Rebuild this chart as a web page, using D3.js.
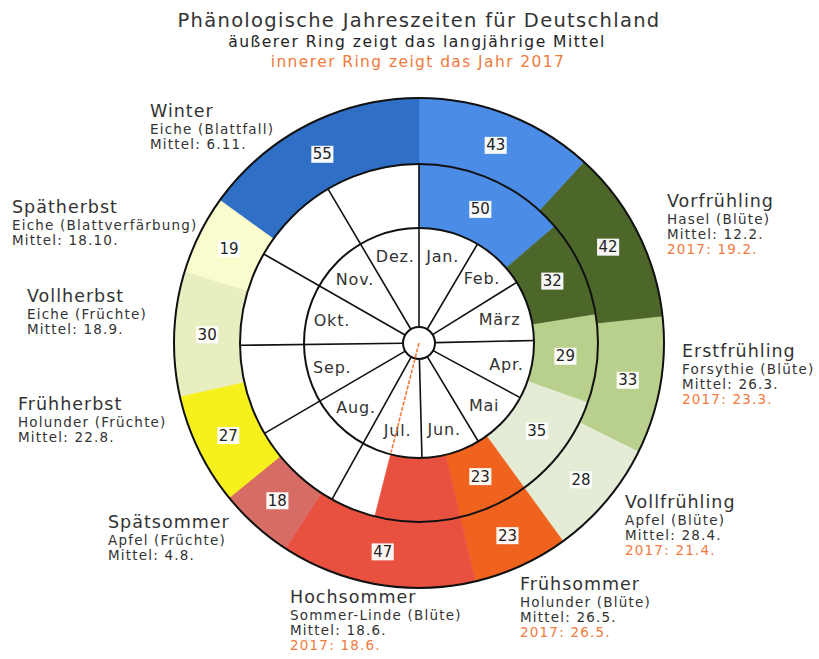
<!DOCTYPE html>
<html><head><meta charset="utf-8">
<script src="https://cdn.jsdelivr.net/npm/d3@7"></script>
<style>
body{margin:0;background:#fff}
svg{display:block}
text{font-family:"DejaVu Sans",sans-serif}
</style>
</head><body>
<svg id="chart" width="819" height="659"></svg>
<script>
// Phenological seasons, long-term mean (outer ring), starting at 1 January
const seasonNames = ["Winter","Vorfrühling","Erstfrühling","Vollfrühling","Frühsommer","Hochsommer","Spätsommer","Frühherbst","Vollherbst","Spätherbst","Winter"];
const meanDays    = [43, 42, 33, 28, 23, 47, 18, 27, 30, 19, 55];
const indicatorPlants = ["", "Hasel (Blüte)", "Forsythie (Blüte)", "Apfel (Blüte)", "Holunder (Blüte)", "Sommer-Linde (Blüte)", "Apfel (Früchte)", "Holunder (Früchte)", "Eiche (Früchte)", "Eiche (Blattverfärbung)", "Eiche (Blattfall)"];
const meanStart   = ["", "12.2.", "26.3.", "28.4.", "26.5.", "18.6.", "4.8.", "22.8.", "18.9.", "18.10.", "6.11."];

// Year 2017 (inner ring): completed seasons and the running one
const days2017  = [50, 32, 29, 35, 23];
const start2017 = ["", "19.2.", "23.3.", "21.4.", "26.5.", "18.6."];
const currentDay2017 = 197;   // day of year reached by the running season (Hochsommer)

const monthNames = ["Jan.","Feb.","März","Apr.","Mai","Jun.","Jul.","Aug.","Sep.","Okt.","Nov.","Dez."];
const monthLengths = [31,28,31,30,31,30,31,31,30,31,30,31];

// ---- styling -------------------------------------------------------------
const palette = ["#4b8de6","#4d672a","#b9d08d","#e4ecd6","#f0631f","#e8503f","#d76c64","#f6f01c","#e8eebf","#fafccd","#2f6fc6"];
const orange = "#f07a3c", ink = "#333";

const svg = d3.select("#chart");
const cx = 419, cy = 343;
const R0 = 245, R1 = 179, R2 = 115, Rc = 16;

const dayAngle = d3.scaleLinear().domain([0, 365]).range([0, 2 * Math.PI]);
const g = svg.append("g").attr("transform", `translate(${cx},${cy})`);

function segments(lengths) {
  let acc = 0;
  return lengths.map((d, i) => { const s = acc; acc += d; return {i, days: d, start: s, end: acc}; });
}
const outerSegs = segments(meanDays);
const innerSegs = segments(days2017);
innerSegs.push({i: 5, days: currentDay2017 - innerSegs[innerSegs.length - 1].end,
                start: innerSegs[innerSegs.length - 1].end, end: currentDay2017, running: true});

const outerArc = d3.arc().innerRadius(R1).outerRadius(R0)
  .startAngle(d => dayAngle(d.start)).endAngle(d => dayAngle(d.end));
const innerArc = d3.arc().innerRadius(R2).outerRadius(R1)
  .startAngle(d => dayAngle(d.start)).endAngle(d => dayAngle(d.end));

g.selectAll("path.outer").data(outerSegs).join("path").attr("class", "outer")
  .attr("d", outerArc).attr("fill", d => palette[d.i]).attr("stroke", d => palette[d.i]).attr("stroke-width", 0.6);
g.selectAll("path.inner").data(innerSegs).join("path").attr("class", "inner")
  .attr("d", innerArc).attr("fill", d => palette[d.i]).attr("stroke", d => palette[d.i]).attr("stroke-width", 0.6);

// month sectors
let acc = 0;
const months = monthNames.map((m, i) => { const s = acc; acc += monthLengths[i]; return {name: m, start: s, end: acc}; });
const polar = (day, r) => { const a = dayAngle(day); return [r * Math.sin(a), -r * Math.cos(a)]; };

g.selectAll("line.month").data(months).join("line").attr("class", "month")
  .each(function(d) {
    const rOut = (d.start === 0 || d.start >= currentDay2017) ? R1 : R2;
    const [x1, y1] = polar(d.start, Rc), [x2, y2] = polar(d.start, rOut);
    d3.select(this).attr("x1", x1).attr("y1", y1).attr("x2", x2).attr("y2", y2);
  })
  .attr("stroke", "#111").attr("stroke-width", 1.6);

// ring outlines
[R0, R1, R2].forEach(r => g.append("circle").attr("r", r).attr("fill", "none").attr("stroke", "#111").attr("stroke-width", 2));
g.append("circle").attr("r", Rc).attr("fill", "#fff").attr("stroke", "#111").attr("stroke-width", 2);

// month labels
g.selectAll("text.month").data(months).join("text").attr("class", "month")
  .attr("x", d => polar((d.start + d.end) / 2, d.name === "März" ? 84 : 90)[0])
  .attr("y", d => polar((d.start + d.end) / 2, d.name === "März" ? 84 : 90)[1])
  .attr("text-anchor", "middle").attr("dominant-baseline", "central")
  .attr("font-size", 16).attr("letter-spacing", 0.8).attr("fill", ink).text(d => d.name);

// running-day pointer
const [px, py] = polar(currentDay2017, R2 - 2);
g.append("line").attr("x1", 0).attr("y1", 0).attr("x2", px).attr("y2", py)
  .attr("stroke", orange).attr("stroke-width", 1.6).attr("stroke-dasharray", "4,1.5");

// value labels
function valueLabel(d, arcGen) {
  const [x, y] = arcGen.centroid(d);
  const lg = g.append("g").attr("transform", `translate(${x},${y})`);
  const t = lg.append("text").attr("text-anchor", "middle").attr("dominant-baseline", "central")
    .attr("font-size", 15).attr("fill", "#222").text(d.days);
  const bb = t.node().getBBox();
  lg.insert("rect", "text").attr("x", bb.x - 1.5).attr("y", bb.y + 0.5).attr("width", bb.width + 3).attr("height", bb.height - 1)
    .attr("fill", "#fff").attr("opacity", 0.95);
}
outerSegs.forEach(d => valueLabel(d, outerArc));
innerSegs.filter(d => !d.running).forEach(d => valueLabel(d, innerArc));

// season annotations (name, indicator plant, mean start, 2017 start)
const annotationAt = {
  1: [667, 207], 2: [682, 357], 3: [625, 508], 4: [520, 590], 5: [290, 603],
  6: [108, 528], 7: [18, 410], 8: [27, 302], 9: [12, 213], 10: [150, 117]
};
Object.keys(annotationAt).forEach(k => {
  const i = +k, [x, y] = annotationAt[k];
  const t = svg.append("text").attr("x", x).attr("y", y).attr("fill", ink);
  t.append("tspan").attr("x", x).attr("font-size", 17.5).attr("letter-spacing", 1).text(seasonNames[i]);
  t.append("tspan").attr("x", x).attr("dy", 17).attr("font-size", 13.5).attr("letter-spacing", 1.2).text(indicatorPlants[i]);
  t.append("tspan").attr("x", x).attr("dy", 15).attr("font-size", 13.5).attr("letter-spacing", 1.2).text("Mittel: " + meanStart[i]);
  if (start2017[i]) t.append("tspan").attr("x", x).attr("dy", 15).attr("font-size", 13.5).attr("letter-spacing", 1.2)
    .attr("fill", orange).text("2017: " + start2017[i]);
});

// title block
svg.append("text").attr("x", 419).attr("y", 27).attr("text-anchor", "middle")
  .attr("font-size", 19.5).attr("letter-spacing", 1.3).attr("fill", ink).text("Phänologische Jahreszeiten für Deutschland");
svg.append("text").attr("x", 417).attr("y", 47).attr("text-anchor", "middle")
  .attr("font-size", 15.5).attr("letter-spacing", 1.5).attr("fill", "#222").text("äußerer Ring zeigt das langjährige Mittel");
svg.append("text").attr("x", 418).attr("y", 67).attr("text-anchor", "middle")
  .attr("font-size", 15.5).attr("letter-spacing", 1.4).attr("fill", orange).text("innerer Ring zeigt das Jahr 2017");
</script>
</body></html>
